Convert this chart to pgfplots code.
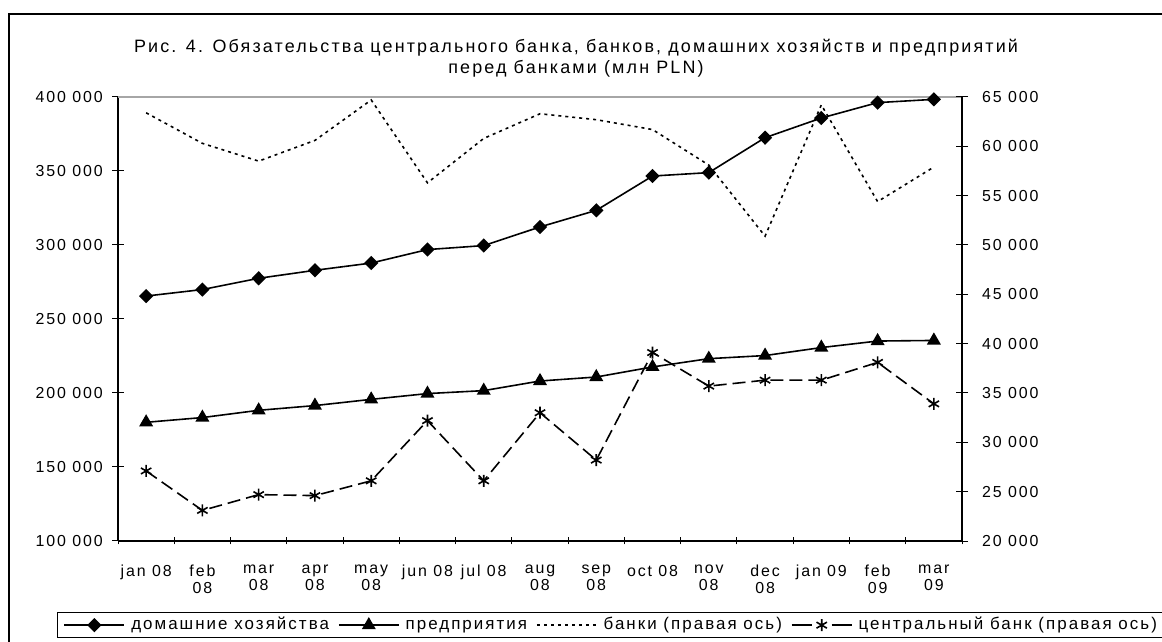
\documentclass[border=0pt]{standalone}
\usepackage{fontspec}
\setmainfont{Liberation Sans}[LetterSpace=12]
\usepackage{pgfplots}
\pgfplotsset{compat=1.18}

\pgfplotsset{
  common/.style={
    scale only axis, width=844bp, height=444bp,
    at={(118bp,101bp)}, anchor=south west,
    xmin=-0.5, xmax=14.5, clip=false,
    tick align=center,
    major tick length=12bp, minor tick length=7bp,
    tick style={black, line width=1bp},
    axis line style={black, line width=1.3bp},
    ticklabel style={font=\fontsize{16}{17}\selectfont},
    scaled y ticks=false,
  },
  hh/.style={black, line width=1.6bp, mark=diamond*, mark size=6bp, mark options={solid, xscale=1.33}},
  en/.style={black, line width=1.6bp, mark=triangle*, mark size=6.5bp, mark options={solid}},
  bk/.style={black, line width=1.6bp, dash pattern=on 3bp off 4bp},
  cb/.style={black, line width=1.6bp, dash pattern=on 13bp off 6bp, mark=asterisk, mark size=6bp, mark options={solid, line width=1.6bp}},
}

\begin{document}
\begin{tikzpicture}
\useasboundingbox (0,0) rectangle (1162bp,642bp);
\draw[line width=1.3bp] (9bp,-20bp) rectangle (1190bp,628bp);
\node[align=center, font=\fontsize{18}{21}\selectfont] at (576bp,584bp)
  {Рис. 4. Обязательства центрального банка, банков, домашних хозяйств и предприятий\\перед банками (млн PLN)};

% left axis: households, enterprises
\begin{axis}[common,
  axis y line*=left, axis x line*=bottom,
  ymin=100000, ymax=400000,
  ytick={100000,150000,200000,250000,300000,350000,400000},
  yticklabels={100 000,150 000,200 000,250 000,300 000,350 000,400 000},
  yticklabel style={inner sep=0pt, xshift=-9bp},
  xtick={0,...,14},
  xticklabels={jan 08,{feb\\08},{mar\\08},{apr\\08},{may\\08},jun 08,jul 08,{aug\\08},{sep\\08},oct 08,{nov\\08},{dec\\08},jan 09,{feb\\09},{mar\\09}},
  xticklabel style={align=center, inner sep=0pt, yshift=-18bp},
  major x tick style={draw=none},
  minor xtick={-0.5,0.5,...,14.5},
]
\draw[gray!70, line width=1.3bp] (rel axis cs:0,1) -- (rel axis cs:1,1);
\addplot[hh] coordinates {
  (0,265500) (1,269900) (2,277500) (3,282900) (4,287800) (5,296900) (6,299600)
  (7,312200) (8,323400) (9,346600) (10,348900) (11,372500) (12,385800) (13,396200) (14,398400)};
\addplot[en] coordinates {
  (0,180200) (1,183400) (2,188300) (3,191500) (4,195700) (5,199600) (6,201600)
  (7,208100) (8,210800) (9,217600) (10,223200) (11,225300) (12,230700) (13,235100) (14,235500)};
\end{axis}

% right axis: banks, central bank
\begin{axis}[common,
  axis y line*=right, axis x line=none,
  ymin=20000, ymax=65000,
  ytick={20000,25000,30000,35000,40000,45000,50000,55000,60000,65000},
  yticklabels={20 000,25 000,30 000,35 000,40 000,45 000,50 000,55 000,60 000,65 000},
  yticklabel style={inner sep=0pt, xshift=14bp},
  legend columns=4,
  legend image code/.code={\draw[mark repeat=2, mark phase=2, #1] plot coordinates {(0bp,0bp) (30bp,0bp) (60bp,0bp)};},
  legend style={at={(-0.07227,-0.15991)}, anchor=north west, draw=black, line width=1.3bp,
    inner xsep=6bp, inner ysep=5bp, font=\fontsize{17}{18}\selectfont,
    nodes={inner sep=0pt, text height=12bp, text depth=3bp},
    /tikz/every odd column/.append style={column sep=6bp},
    /tikz/every even column/.append style={column sep=9bp}},
  legend cell align=left,
]
\addlegendimage{hh}
\addlegendentry{домашние хозяйства}
\addlegendimage{en}
\addlegendentry{предприятия}
\addplot[bk] coordinates {
  (0,63400) (1,60300) (2,58500) (3,60600) (4,64700) (5,56300) (6,60800)
  (7,63300) (8,62700) (9,61700) (10,58100) (11,50900) (12,64200) (13,54400) (14,57900)};
\addlegendentry{банки (правая ось)}
\addplot[cb, forget plot] coordinates {
  (0,27100) (1,23100) (2,24700) (3,24600) (4,26100) (5,32200) (6,26100)
  (7,33000) (8,28200) (9,39100) (10,35700) (11,36300) (12,36300) (13,38100) (14,33900)};
\addlegendimage{cb, dash pattern=on 20bp off 20bp}
\addlegendentry{центральный банк (правая ось)}
\end{axis}
\end{tikzpicture}
\end{document}
